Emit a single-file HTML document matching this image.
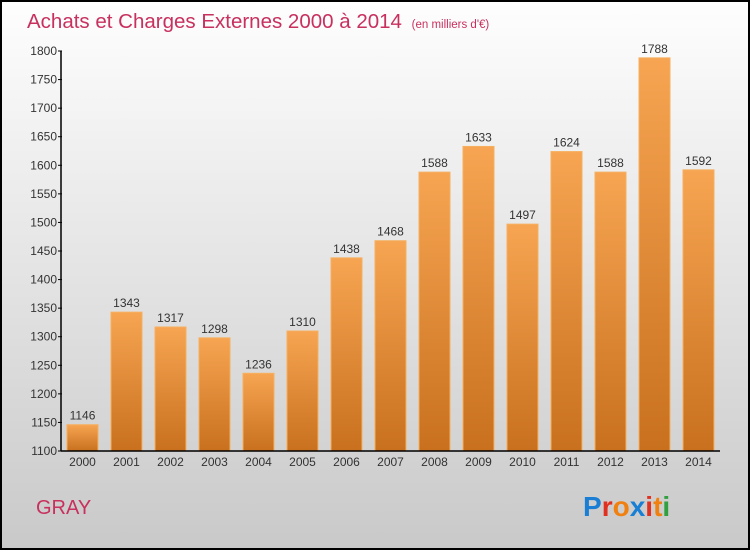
<!DOCTYPE html>
<html><head><meta charset="utf-8"><style>
body{margin:0;width:750px;height:550px;overflow:hidden;font-family:"Liberation Sans",sans-serif}
</style></head><body>
<svg width="750" height="550" xmlns="http://www.w3.org/2000/svg">
<defs>
<linearGradient id="bg" x1="0" y1="0" x2="0" y2="1"><stop offset="0" stop-color="#fefefe"/><stop offset="1" stop-color="#c9c9c9"/></linearGradient>
<linearGradient id="bar" x1="0" y1="0" x2="0" y2="1"><stop offset="0" stop-color="#f7a552"/><stop offset="1" stop-color="#c8701e"/></linearGradient>
</defs>
<rect x="1" y="1" width="748" height="548" fill="url(#bg)" stroke="#000" stroke-width="2"/>
<text x="27" y="28" font-size="20.5" fill="#c8305e">Achats et Charges Externes 2000 à 2014 <tspan font-size="11.5" dx="4">(en milliers d'€)</tspan></text>
<g id="plot"></g>
<text x="36" y="514" font-size="20" fill="#c8305e">GRAY</text>
<text x="583" y="516" font-size="28" font-weight="bold"><tspan fill="#1a7fd4">P</tspan><tspan fill="#e03020">r</tspan><tspan fill="#f08010">o</tspan><tspan fill="#1a7fd4">x</tspan><tspan fill="#e03020">i</tspan><tspan fill="#f08010">t</tspan><tspan fill="#30a040">i</tspan></text>
</svg>
<script>
const years=["2000","2001","2002","2003","2004","2005","2006","2007","2008","2009","2010","2011","2012","2013","2014"];
const values=[1146,1343,1317,1298,1236,1310,1438,1468,1588,1633,1497,1624,1588,1788,1592];
const yTicks=[1100,1150,1200,1250,1300,1350,1400,1450,1500,1550,1600,1650,1700,1750,1800];
const NS="http://www.w3.org/2000/svg";
const g=document.getElementById('plot');
const y=v=>451-(v-1100)*400/700;
const x=i=>82.5+i*44;
function mk(t,a){const e=document.createElementNS(NS,t);for(const k in a)e.setAttribute(k,a[k]);g.appendChild(e);return e;}
values.forEach((v,i)=>{
 const r=mk('rect',{x:x(i)-15.5,y:y(v),width:31,height:451-y(v),fill:'url(#bar)',stroke:'#f5b060','stroke-width':1});
 
 
 const t=mk('text',{x:x(i),y:y(v)-5,'font-size':12,'text-anchor':'middle',fill:'#333'});t.textContent=v;
 
 
 const xl=mk('text',{x:x(i),y:466,'font-size':12,'text-anchor':'middle',fill:'#333'});xl.textContent=years[i];
 
 
});
yTicks.forEach(v=>{
 mk('line',{x1:58,x2:62,y1:y(v),y2:y(v),stroke:'#000'});
 const t=mk('text',{x:57,y:y(v)+4,'font-size':12,'text-anchor':'end',fill:'#333'});t.textContent=v;
 
 
});
const ya=mk('line',{x1:61,x2:61,y1:51,y2:451,stroke:'#000','stroke-width':1.5});


const xa=mk('line',{x1:61,x2:720,y1:451,y2:451,stroke:'#000','stroke-width':1.5});


</script>
</body></html>
